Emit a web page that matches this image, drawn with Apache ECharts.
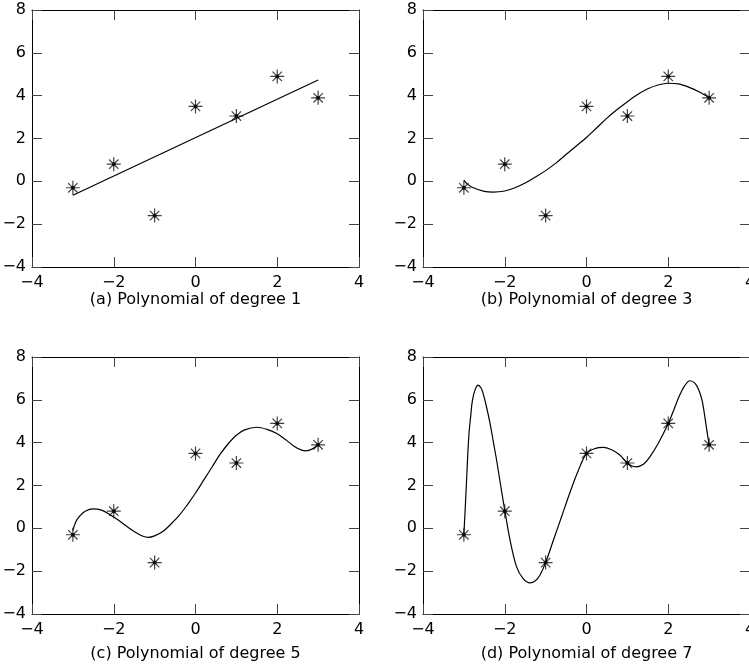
<!DOCTYPE html>
<html>
<head>
<meta charset="utf-8">
<script src="https://cdn.jsdelivr.net/npm/echarts@6/dist/echarts.min.js"></script>
<style>
html,body{margin:0;padding:0;background:#fff;}
#c{width:749px;height:670px;}
</style>
</head>
<body>
<div id="c"></div>
<script>
// ---- data ----
const xPts = [-3, -2, -1, 0, 1, 2, 3];
const yPts = [-0.3, 0.8, -1.6, 3.5, 3.05, 4.9, 3.9];
const xTicks = [-4, -2, 0, 2, 4];
const yTicks = [-4, -2, 0, 2, 4, 6, 8];
const titles = ['(a) Polynomial of degree 1', '(b) Polynomial of degree 3',
                '(c) Polynomial of degree 5', '(d) Polynomial of degree 7'];

const fit1 = [[-3, -0.65], [3, 4.73]];
const fit3 = [[-3,0.06],[-2.92,-0.12],[-2.77,-0.3],[-2.5,-0.47],[-2.28,-0.5],[-2,-0.45],[-1.75,-0.3],
  [-1.5,-0.08],[-1.25,0.2],[-1,0.5],[-0.75,0.85],[-0.5,1.25],[-0.25,1.65],[0,2.05],[0.25,2.5],
  [0.5,2.95],[0.75,3.35],[1,3.72],[1.25,4.05],[1.5,4.32],[1.75,4.5],[2,4.58],[2.25,4.55],
  [2.5,4.4],[2.75,4.18],[3,3.9]];
const fit5 = [[-3,-0.1],[-2.93,0.3],[-2.83,0.58],[-2.7,0.8],[-2.5,0.91],[-2.3,0.85],[-2.1,0.65],
  [-1.9,0.4],[-1.7,0.12],[-1.5,-0.15],[-1.3,-0.36],[-1.15,-0.42],[-1,-0.35],[-0.8,-0.15],
  [-0.6,0.2],[-0.4,0.6],[-0.2,1.1],[0,1.65],[0.2,2.25],[0.4,2.85],[0.6,3.45],[0.8,3.95],
  [1,4.35],[1.2,4.6],[1.5,4.72],[1.75,4.62],[2,4.42],[2.2,4.15],[2.4,3.85],[2.6,3.65],
  [2.7,3.62],[2.85,3.7],[3,3.9]];
const fit7 = [[-3,-0.3],[-2.96,1.2],[-2.93,2.41],[-2.88,4.28],[-2.83,5.3],[-2.79,5.99],[-2.72,6.5],
  [-2.65,6.69],[-2.58,6.55],[-2.53,6.3],[-2.45,5.7],[-2.36,4.9],[-2.28,4.05],[-2.2,3.19],
  [-2.1,2.0],[-2.0,0.85],[-1.87,-0.55],[-1.71,-1.8],[-1.55,-2.35],[-1.38,-2.55],[-1.25,-2.45],
  [-1.14,-2.19],[-1.0,-1.6],[-0.8,-0.5],[-0.61,0.54],[-0.4,1.7],[-0.2,2.7],[0,3.5],[0.2,3.72],
  [0.41,3.78],[0.6,3.68],[0.8,3.45],[1.0,3.05],[1.1,2.92],[1.22,2.87],[1.4,3.0],[1.55,3.34],
  [1.75,3.95],[2.0,4.9],[2.15,5.6],[2.28,6.22],[2.4,6.65],[2.53,6.89],[2.65,6.78],[2.75,6.45],
  [2.83,5.95],[2.9,5.15],[2.95,4.5],[3,3.9]];
const fits = [fit1, fit3, fit5, fit7];

// ---- chart ----
const chart = echarts.init(document.getElementById('c'), null, {renderer: 'canvas'});
const FONT = 'DejaVu Sans';
const fmt = v => String(v).replace('-', '\u2212');
const gridPos = [{left: 32, top: 10, gap: 24}, {left: 423, top: 10, gap: 24},
                 {left: 32, top: 357, gap: 32}, {left: 423, top: 357, gap: 32}];
const pts = xPts.map((x, i) => [x, yPts[i]]);
const star = 'path://M7,0L7,14M0,7L14,7M2.3,2.3L11.7,11.7M2.3,11.7L11.7,2.3';

const grids = [], xAxes = [], yAxes = [], series = [];
const lineCol = '#000', tickCol = '#444';
gridPos.forEach((g, i) => {
  grids.push({left: g.left, top: g.top, width: 327, height: 257, containLabel: false,
              outerBoundsMode: 'none'});
  const common = {
    gridIndex: i, type: 'value',
    splitLine: {show: false},
    axisLine: {show: true, onZero: false, lineStyle: {color: lineCol, width: 1}},
    axisTick: {show: true, inside: true, length: 10, lineStyle: {color: tickCol, width: 1}}
  };
  xAxes.push(Object.assign({}, common, {
    position: 'bottom', min: xTicks[0], max: xTicks[xTicks.length - 1], interval: xTicks[1] - xTicks[0],
    axisLabel: {formatter: fmt, color: '#000', fontSize: 16, fontFamily: FONT, margin: 8,
                showMinLabel: true, showMaxLabel: true, hideOverlap: false},
    name: titles[i], nameLocation: 'middle', nameGap: g.gap,
    nameTextStyle: {color: '#000', fontSize: 16, fontFamily: FONT}
  }));
  xAxes.push(Object.assign({}, common, {
    position: 'top', min: xTicks[0], max: xTicks[xTicks.length - 1], interval: xTicks[1] - xTicks[0],
    axisLabel: {show: false}
  }));
  yAxes.push(Object.assign({}, common, {
    position: 'left', min: yTicks[0], max: yTicks[yTicks.length - 1], interval: yTicks[1] - yTicks[0],
    axisLabel: {formatter: fmt, color: '#000', fontSize: 16, fontFamily: FONT, margin: 6,
                showMinLabel: true, showMaxLabel: true, hideOverlap: false}
  }));
  yAxes.push(Object.assign({}, common, {
    position: 'right', min: yTicks[0], max: yTicks[yTicks.length - 1], interval: yTicks[1] - yTicks[0],
    axisLabel: {show: false}
  }));
  series.push({
    type: 'line', xAxisIndex: 2 * i, yAxisIndex: 2 * i, data: fits[i],
    smooth: i === 0 ? false : 0.35, showSymbol: false, symbol: 'none',
    lineStyle: {color: '#000', width: 1.2}, z: 2
  });
  series.push({
    type: 'scatter', xAxisIndex: 2 * i, yAxisIndex: 2 * i, data: pts,
    symbol: star, symbolSize: 14,
    itemStyle: {color: 'rgba(0,0,0,0)', borderColor: '#111', borderWidth: 1.2}, z: 3
  });
  series.push({
    type: 'scatter', xAxisIndex: 2 * i, yAxisIndex: 2 * i, data: pts,
    symbol: 'circle', symbolSize: 4,
    itemStyle: {color: '#000'}, z: 4
  });
});

chart.setOption({
  animation: false,
  backgroundColor: '#fff',
  grid: grids, xAxis: xAxes, yAxis: yAxes, series: series
});
</script>
</body>
</html>
